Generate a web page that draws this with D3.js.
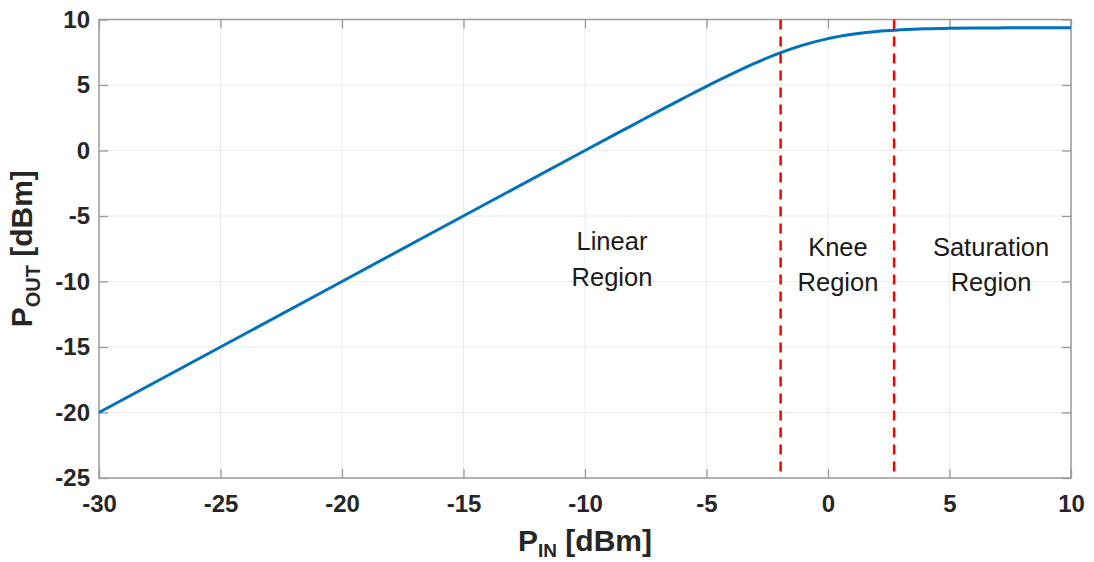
<!DOCTYPE html>
<html>
<head>
<meta charset="utf-8">
<script src="https://cdn.jsdelivr.net/npm/d3@7"></script>
<style>
  body { margin: 0; background: #fff; }
  svg { font-family: "Liberation Sans", Arial, sans-serif; }
  .axis text { font-weight: bold; fill: #262626; font-size: 24px; }
  .axis .domain { display: none; }
</style>
</head>
<body>
<div id="chart"></div>
<script>
// Data
const pinValues = [-30, -20, -10, -8, -7, -6, -5, -4, -3, -2, -1, 0, 1, 2, 3, 4, 5, 6, 7, 8, 10]
const poutValues = [-20, -10, 0, 1.98, 2.97, 3.94, 4.9, 5.81, 6.67, 7.43, 8.06, 8.54, 8.87, 9.09, 9.21, 9.29, 9.33, 9.35, 9.36, 9.37, 9.37]
const xTicks = [-30, -25, -20, -15, -10, -5, 0, 5, 10]
const yTicks = [-25, -20, -15, -10, -5, 0, 5, 10]
const boundaries = [-1.95, 2.72]
const regionLabels = [
  { x: -8.89, lines: ['Linear', 'Region'], y: 250 },
  { x: 0.41, lines: ['Knee', 'Region'], y: 255.5 },
  { x: 6.71, lines: ['Saturation', 'Region'], y: 255.5 }
]

const dataset = pinValues.map((p, i) => ({ pin: p, pout: poutValues[i] }))

// Dimensions
let dimensions = {
  width: 1094,
  height: 562,
  margin: { top: 19.5, bottom: 84, left: 99, right: 23 }
}
dimensions.ctrWidth = dimensions.width - dimensions.margin.left - dimensions.margin.right
dimensions.ctrHeight = dimensions.height - dimensions.margin.top - dimensions.margin.bottom

const svg = d3.select('#chart')
  .append('svg')
  .attr('width', dimensions.width)
  .attr('height', dimensions.height)

const ctr = svg.append('g')
  .attr('transform', `translate(${dimensions.margin.left}, ${dimensions.margin.top})`)

// Scales
const xScale = d3.scaleLinear().domain([-30, 10]).range([0, dimensions.ctrWidth])
const yScale = d3.scaleLinear().domain([-25, 10]).range([dimensions.ctrHeight, 0])

// Grid
ctr.append('g')
  .selectAll('line')
  .data(xTicks)
  .join('line')
  .attr('x1', d => xScale(d)).attr('x2', d => xScale(d))
  .attr('y1', 0).attr('y2', dimensions.ctrHeight)
  .attr('stroke', '#ebebeb').attr('stroke-width', 1)

ctr.append('g')
  .selectAll('line')
  .data(yTicks)
  .join('line')
  .attr('y1', d => yScale(d)).attr('y2', d => yScale(d))
  .attr('x1', 0).attr('x2', dimensions.ctrWidth)
  .attr('stroke', '#ebebeb').attr('stroke-width', 1)

// Axes (hyphen minus, like the original)
const fmt = d => String(d)
const tickLen = 9
const xAxis = d3.axisBottom(xScale).tickValues(xTicks).tickSize(-tickLen).tickPadding(17).tickFormat(fmt)
const yAxis = d3.axisLeft(yScale).tickValues(yTicks).tickSize(-tickLen).tickPadding(9).tickFormat(fmt)

ctr.append('g').classed('axis', true)
  .attr('transform', `translate(0, ${dimensions.ctrHeight})`)
  .call(xAxis)
ctr.append('g').classed('axis', true)
  .call(yAxis)
ctr.append('g').classed('axis', true)
  .call(d3.axisTop(xScale).tickValues(xTicks).tickSize(-tickLen).tickFormat(''))
ctr.append('g').classed('axis', true)
  .attr('transform', `translate(${dimensions.ctrWidth}, 0)`)
  .call(d3.axisRight(yScale).tickValues(yTicks).tickSize(-tickLen).tickFormat(''))

ctr.selectAll('.axis .tick line').attr('stroke', '#9a9a9a').attr('stroke-width', 1.3)

ctr.append('rect')
  .attr('width', dimensions.ctrWidth)
  .attr('height', dimensions.ctrHeight)
  .attr('fill', 'none')
  .attr('stroke', '#9a9a9a')
  .attr('stroke-width', 1.5)

// Region boundaries
ctr.append('g')
  .selectAll('line')
  .data(boundaries)
  .join('line')
  .attr('x1', d => xScale(d)).attr('x2', d => xScale(d))
  .attr('y1', 0).attr('y2', dimensions.ctrHeight - 6)
  .attr('stroke', '#ff0000')
  .attr('stroke-width', 2.5)
  .attr('stroke-dasharray', '10,7')

// Curve
const line = d3.line()
  .x(d => xScale(d.pin))
  .y(d => yScale(d.pout))
  .curve(d3.curveMonotoneX)

ctr.append('path')
  .datum(dataset)
  .attr('d', line)
  .attr('fill', 'none')
  .attr('stroke', '#0072bd')
  .attr('stroke-width', 3)

// Region labels
regionLabels.forEach(r => {
  const t = ctr.append('text')
    .attr('x', xScale(r.x))
    .attr('y', r.y - dimensions.margin.top)
    .attr('text-anchor', 'middle')
    .attr('font-size', 25.5)
    .attr('fill', '#1a1a1a')
  r.lines.forEach((s, i) => {
    t.append('tspan').attr('x', xScale(r.x)).attr('dy', i === 0 ? 0 : 35.5).text(s)
  })
})

// Axis labels
const xLabel = svg.append('text')
  .attr('x', dimensions.margin.left + dimensions.ctrWidth / 2)
  .attr('y', 551)
  .attr('text-anchor', 'middle')
  .attr('font-size', 30)
  .attr('font-weight', 'bold')
  .attr('fill', '#262626')
xLabel.append('tspan').text('P')
xLabel.append('tspan').attr('font-size', 19).attr('dy', 6).text('IN')
xLabel.append('tspan').attr('dy', -6).text(' [dBm]')

const yLabel = svg.append('text')
  .attr('transform', `translate(32, ${dimensions.margin.top + dimensions.ctrHeight / 2}) rotate(-90)`)
  .attr('text-anchor', 'middle')
  .attr('font-size', 30)
  .attr('font-weight', 'bold')
  .attr('fill', '#262626')
yLabel.append('tspan').text('P')
yLabel.append('tspan').attr('font-size', 20).attr('dy', 8).text('OUT')
yLabel.append('tspan').attr('dy', -8).text(' [dBm]')
</script>
</body>
</html>
